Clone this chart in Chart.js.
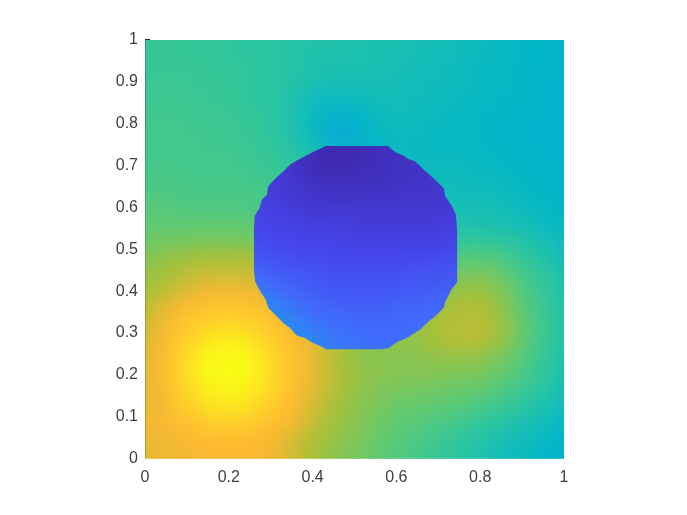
<!DOCTYPE html>
<html>
<head>
<meta charset="utf-8">
<script src="https://cdn.jsdelivr.net/npm/chart.js@4"></script>
<style>
html, body { margin: 0; background: #fff; }
canvas { display: block; }
</style>
</head>
<body>
<canvas id="myChart" width="687" height="515"></canvas>
<script>
// tick positions
const xTickValues = [0, 0.2, 0.4, 0.6, 0.8, 1]
const yTickValues = [0, 0.1, 0.2, 0.3, 0.4, 0.5, 0.6, 0.7, 0.8, 0.9, 1]

// colormap stops, value 0..100 read against the picture
const colorStops = [0, 10, 20, 30, 40, 50, 60, 70, 80, 90, 100]
const colorRgb = [
    [62, 38, 168], [70, 68, 233], [64, 108, 254], [36, 148, 236], [2, 182, 200], [44, 198, 160],
    [100, 202, 110], [168, 192, 56], [254, 184, 50], [254, 212, 40], [249, 251, 21]
]

// background field, rows from y=1 down to y=0, columns x=0..1
const fieldX = [0, 0.04, 0.08, 0.12, 0.16, 0.2, 0.24, 0.28, 0.32, 0.36, 0.4, 0.44, 0.48, 0.52, 0.56, 0.6, 0.64, 0.68, 0.72, 0.76, 0.8, 0.84, 0.88, 0.92, 0.96, 1]
const fieldY = [1, 0.96, 0.92, 0.88, 0.84, 0.8, 0.76, 0.72, 0.68, 0.64, 0.6, 0.56, 0.52, 0.48, 0.44, 0.4, 0.36, 0.32, 0.28, 0.24, 0.2, 0.16, 0.12, 0.08, 0.04, 0]
const fieldValues = [
    [52,52,52,51,51,51,50,50,49,49,48,48,47,47,46,46,45,45,44,43,43,42,41,41,40,39],
    [52,52,52,52,51,51,50,50,49,48,47,47,46,46,46,45,45,44,44,43,42,42,41,40,40,39],
    [52,52,52,52,52,51,51,50,49,48,47,46,46,46,45,45,44,44,43,43,42,41,41,40,40,39],
    [53,53,53,52,52,52,51,50,49,47,45,44,44,44,45,44,44,43,43,42,42,41,41,40,39,39],
    [53,53,53,53,52,52,51,50,49,46,43,41,41,42,43,44,43,43,42,42,41,41,40,40,39,39],
    [54,54,54,53,53,53,52,51,49,46,42,38,38,40,42,43,43,42,42,41,41,40,40,39,39,39],
    [54,54,54,54,53,53,52,51,50,47,43,38,37,39,41,42,42,42,41,41,41,40,40,39,39,39],
    [54,54,54,54,54,54,53,52,51,49,47,43,42,42,42,43,42,42,42,42,41,41,40,40,39,39],
    [55,55,55,54,54,54,54,53,52,51,49,47,45,44,44,44,43,43,43,43,42,42,41,40,40,39],
    [56,56,55,55,55,55,55,54,53,52,50,48,46,45,45,44,44,44,44,43,43,43,42,41,40,40],
    [58,57,57,56,56,56,56,55,54,53,51,49,47,46,45,45,45,45,45,45,45,44,43,42,41,40],
    [59,59,59,59,59,59,59,58,56,55,52,50,48,47,46,46,46,46,47,47,46,46,45,44,42,41],
    [61,62,62,63,63,63,62,62,60,57,54,51,49,48,47,47,47,48,50,51,51,50,49,47,45,43],
    [64,66,68,69,70,70,70,69,66,60,56,53,50,49,48,48,49,50,54,57,57,56,53,50,47,44],
    [67,69,71,73,74,74,74,73,71,67,60,55,51,50,49,49,50,53,60,63,63,62,57,53,50,46],
    [69,72,75,77,79,79,79,77,75,72,68,60,54,52,51,51,53,58,66,68,68,66,60,55,51,47],
    [72,76,79,82,84,84,84,82,79,76,73,70,62,56,54,54,60,68,70,71,71,68,62,56,52,48],
    [74,78,83,87,90,91,90,87,83,79,75,71,68,62,60,60,65,70,71,72,72,70,64,57,52,48],
    [75,79,86,91,95,97,95,91,86,81,77,73,69,67,66,67,67,69,71,72,72,69,64,57,52,48],
    [76,80,88,95,99,100,99,95,88,83,78,73,69,66,65,65,65,66,67,67,66,64,60,55,51,47],
    [77,80,89,96,100,100,100,96,89,83,78,73,70,67,66,65,65,65,64,64,63,61,58,54,50,46],
    [77,79,87,93,97,99,97,93,87,81,77,73,69,66,64,63,62,62,61,60,59,57,54,51,48,45],
    [78,79,85,89,93,94,93,89,85,80,75,71,68,65,63,61,60,59,58,57,55,53,51,48,46,43],
    [79,79,81,84,87,88,87,84,81,78,73,70,67,64,61,59,58,56,55,53,51,49,47,45,43,41],
    [78,78,79,80,81,82,81,80,78,74,71,68,65,63,60,58,56,54,52,50,48,46,44,43,41,40],
    [77,78,78,79,80,80,80,79,78,74,70,67,64,62,59,57,55,53,51,49,47,45,43,42,40,39]
]

// disc interior, rows from y=0.76 down to y=0.24
const discX = [0.24, 0.28, 0.32, 0.36, 0.4, 0.44, 0.48, 0.52, 0.56, 0.6, 0.64, 0.68, 0.72, 0.76]
const discY = [0.76, 0.72, 0.68, 0.64, 0.6, 0.56, 0.52, 0.48, 0.44, 0.4, 0.36, 0.32, 0.28, 0.24]
const discValues = [
    [9,8,6,4,2,1,1,2,3,4,5,6,7,7],
    [9,8,6,4,2,1,1,2,3,4,4,5,6,7],
    [9,8,7,5,3,2,2,3,3,4,4,5,6,7],
    [9,8,7,6,5,4,4,4,4,5,5,5,6,7],
    [9,9,8,7,6,6,6,6,6,6,6,6,6,7],
    [10,10,9,9,8,8,8,7,7,7,7,7,8,8],
    [12,11,11,10,10,10,9,9,9,9,9,9,9,10],
    [15,14,13,12,12,11,11,11,11,11,11,11,12,12],
    [20,18,16,15,14,13,13,13,13,13,14,14,14,15],
    [25,23,20,18,16,15,15,15,15,15,16,16,17,17],
    [29,28,25,22,19,18,17,17,17,18,18,19,19,20],
    [32,31,29,26,23,21,20,19,19,19,20,20,20,21],
    [33,32,31,29,27,24,22,21,20,20,21,21,21,22],
    [33,33,32,30,28,25,23,22,21,21,21,22,22,22]
]

// jagged edge of the disc
const outlineX = [0.430, 0.580, 0.590, 0.601, 0.617, 0.629, 0.645, 0.661, 0.677, 0.697, 0.713, 0.717, 0.733, 0.742, 0.745,
    0.745, 0.731, 0.717, 0.713, 0.693, 0.677, 0.657, 0.641, 0.625, 0.601, 0.582, 0.566,
    0.432, 0.422, 0.398, 0.382, 0.362, 0.346, 0.330, 0.310, 0.294, 0.288, 0.275, 0.263, 0.260,
    0.260, 0.262, 0.273, 0.279, 0.291, 0.294, 0.310, 0.330, 0.346, 0.362, 0.382, 0.402, 0.422]
const outlineY = [0.747, 0.747, 0.738, 0.730, 0.724, 0.715, 0.710, 0.694, 0.680, 0.662, 0.646, 0.626, 0.602, 0.582, 0.547,
    0.421, 0.403, 0.375, 0.360, 0.340, 0.328, 0.308, 0.298, 0.288, 0.278, 0.264, 0.261,
    0.261, 0.267, 0.278, 0.288, 0.294, 0.312, 0.324, 0.344, 0.360, 0.380, 0.399, 0.423, 0.451,
    0.547, 0.580, 0.598, 0.618, 0.630, 0.650, 0.668, 0.686, 0.702, 0.712, 0.722, 0.733, 0.742]

function ColorOf(value)
{
    let i = 0
    while (i < colorStops.length - 2 && value > colorStops[i + 1])
        i++
    let t = (value - colorStops[i]) / (colorStops[i + 1] - colorStops[i])
    let a = colorRgb[i]
    let b = colorRgb[i + 1]
    return 'rgb(' + [0, 1, 2].map(c => Math.round(a[c] + (b[c] - a[c]) * t)).join(',') + ')'
}

function BuildCells(xs, ys, rows)
{
    let cells = []
    rows.forEach((row, i) => row.forEach((value, k) => cells.push({ x: xs[k], y: ys[i], v: value })))
    return cells
}

function CellDataset(label, cells, step, order)
{
    return {
        label: label,
        data: cells,
        order: order,
        clip: 0,
        pointStyle: 'rect',
        pointBorderWidth: 0,
        pointBackgroundColor: (ctx) => ColorOf(ctx.raw.v),
        pointRadius: (ctx) => {
            let scale = ctx.chart.scales.x
            let width = scale.getPixelForValue(step) - scale.getPixelForValue(0)
            return (width / 2 + 0.6) * Math.SQRT2
        }
    }
}

function CopyArea(chart)
{
    let area = chart.chartArea
    let copy = document.createElement('canvas')
    copy.width = Math.ceil(area.right - area.left)
    copy.height = Math.ceil(area.bottom - area.top)
    copy.getContext('2d').drawImage(chart.canvas, area.left, area.top, copy.width, copy.height, 0, 0, copy.width, copy.height)
    return copy
}

function SmoothArea(chart, sigma)
{
    let area = chart.chartArea
    let copy = CopyArea(chart)
    let ctx = chart.ctx
    ctx.save()
    ctx.beginPath()
    ctx.rect(area.left, area.top, area.right - area.left, area.bottom - area.top)
    ctx.clip()
    ctx.filter = 'blur(' + sigma + 'px)'
    ctx.drawImage(copy, area.left, area.top)
    ctx.restore()
}

// interpolated shading: soften the cells, keep the disc edge sharp
const shadingPlugin = {
    id: 'shading',
    afterDatasetDraw(chart, args)
    {
        if (args.meta.label == 'field')
        {
            SmoothArea(chart, 8)
            this._fieldCopy = CopyArea(chart)
            return
        }
        SmoothArea(chart, 8)
        let area = chart.chartArea
        let x = chart.scales.x
        let y = chart.scales.y
        let ctx = chart.ctx
        ctx.save()
        ctx.beginPath()
        ctx.rect(area.left, area.top, area.right - area.left, area.bottom - area.top)
        ctx.moveTo(x.getPixelForValue(outlineX[0]), y.getPixelForValue(outlineY[0]))
        for (let i = 1; i < outlineX.length; i++)
            ctx.lineTo(x.getPixelForValue(outlineX[i]), y.getPixelForValue(outlineY[i]))
        ctx.closePath()
        ctx.clip('evenodd')
        ctx.drawImage(this._fieldCopy, area.left, area.top)
        ctx.restore()
    },
    afterDraw(chart)
    {
        // the only axis marks not hidden by the image
        let x = chart.scales.x
        let y = chart.scales.y
        let ctx = chart.ctx
        ctx.save()
        ctx.fillStyle = 'rgba(38,38,38,0.25)'
        ctx.fillRect(x.getPixelForValue(0), y.getPixelForValue(1), 1, y.getPixelForValue(0) - y.getPixelForValue(1))
        ctx.fillStyle = '#262626'
        ctx.fillRect(x.getPixelForValue(0), y.getPixelForValue(1) - 1, 5, 1)
        ctx.restore()
    }
}

const tickFont = { family: '"Liberation Sans", Arial, sans-serif', size: 16 }

let config = {
    type: 'scatter',
    data: {
        datasets: [
            CellDataset('disc', BuildCells(discX, discY, discValues), 0.04, 1),
            CellDataset('field', BuildCells(fieldX, fieldY, fieldValues), 0.04, 2)
        ]
    },
    options: {
        responsive: false,
        animation: false,
        events: [],
        layout: {
            padding: { top: 40, right: 123, bottom: 0, left: 0 }
        },
        scales: {
            x: {
                type: 'linear',
                min: 0,
                max: 1,
                grid: { display: false, drawTicks: false },
                border: { display: false },
                afterBuildTicks: (scale) => { scale.ticks = xTickValues.map(v => ({ value: v })) },
                afterFit: (scale) => { scale.height = 56.5 },
                ticks: { color: '#404040', font: tickFont, padding: 9, maxRotation: 0, autoSkip: false, callback: (v) => String(v) }
            },
            y: {
                type: 'linear',
                min: 0,
                max: 1,
                grid: { display: false, drawTicks: false },
                border: { display: false },
                afterBuildTicks: (scale) => { scale.ticks = yTickValues.map(v => ({ value: v })) },
                afterFit: (scale) => { scale.width = 145 },
                ticks: { color: '#404040', font: tickFont, padding: 7, autoSkip: false, callback: (v) => String(v) }
            }
        },
        plugins: {
            legend: { display: false },
            tooltip: { enabled: false }
        }
    },
    plugins: [shadingPlugin]
}

new Chart(document.getElementById('myChart'), config)
</script>
</body>
</html>
